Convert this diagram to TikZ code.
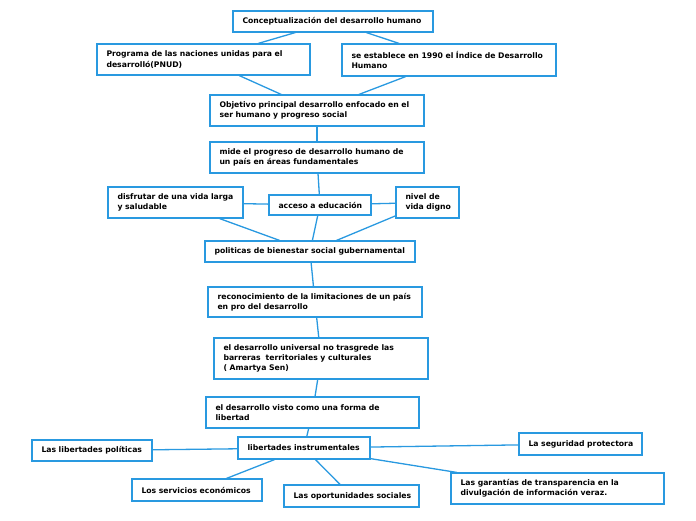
\documentclass[tikz,border=0pt]{standalone}
\usepackage{fontspec}
\setmainfont{DejaVu Sans}
\definecolor{bblue}{RGB}{41,153,224}
\newcommand\boxline[1]{\mbox{#1}}
\tikzset{
  box/.style={draw=bblue, line width=1.1pt, fill=white, inner xsep=9.5pt, inner ysep=0pt,
    align=left, font=\fontsize{7.7pt}{10.2pt}\selectfont\bfseries, anchor=center},
  link/.style={draw=bblue, line width=1.3pt}
}
\begin{document}
\begin{tikzpicture}[x=1pt,y=-1pt]
\useasboundingbox (0,0) rectangle (696,520);
\node[box, text width=181pt, minimum height=21pt] (concept) at (333,21.5) {\boxline{Conceptualización del desarrollo humano}};
\node[box, text width=194pt, minimum height=31pt] (prog) at (203.5,59.5) {\boxline{Programa de las naciones unidas para el}\\\boxline{desarrolló(PNUD)}};
\node[box, text width=195pt, minimum height=32pt] (est) at (449,60) {\boxline{se establece en 1990 el Índice de Desarrollo}\\\boxline{Humano}};
\node[box, text width=195pt, minimum height=31pt] (obj) at (317,110.5) {\boxline{Objetivo principal desarrollo enfocado en el}\\\boxline{ser humano y progreso social}};
\node[box, text width=195pt, minimum height=31pt] (mide) at (317,157.5) {\boxline{mide el progreso de desarrollo humano de}\\\boxline{un país en áreas fundamentales}};
\node[box, text width=116pt, minimum height=31pt] (disf) at (175.5,202.5) {\boxline{disfrutar de una vida larga}\\\boxline{y saludable}};
\node[box, text width=83pt, minimum height=20pt] (acc) at (320,205) {\boxline{acceso a educación}};
\node[box, text width=44pt, minimum height=31pt] (niv) at (427.5,202.5) {\boxline{nivel de}\\\boxline{vida digno}};
\node[box, text width=191pt, minimum height=21pt] (pol) at (310,251.5) {\boxline{politicas de bienestar social gubernamental}};
\node[box, text width=195pt, minimum height=30pt] (rec) at (315,302) {\boxline{reconocimiento de la limitaciones de un país}\\\boxline{en pro del desarrollo}};
\node[box, text width=195pt, minimum height=41pt] (univ) at (321,358.5) {\boxline{el desarrollo universal no trasgrede las}\\\boxline{barreras\ \ territoriales y culturales}\\\boxline{( Amartya Sen)}};
\node[box, text width=194pt, minimum height=31pt] (vis) at (312.5,412.5) {\boxline{el desarrollo visto como una forma de}\\\boxline{libertad}};
\node[box, text width=113pt, minimum height=22pt] (lib) at (304,448) {\boxline{libertades instrumentales}};
\node[box, text width=101pt, minimum height=21pt] (lpol) at (92,450.5) {\boxline{Las libertades políticas}};
\node[box, text width=104pt, minimum height=22pt] (seg) at (580.5,444) {\boxline{La seguridad protectora}};
\node[box, text width=111pt, minimum height=22pt] (serv) at (197,490) {\boxline{Los servicios económicos}};
\node[box, text width=116pt, minimum height=22pt] (opo) at (351.5,496) {\boxline{Las oportunidades sociales}};
\node[box, text width=194pt, minimum height=31pt] (gar) at (557.5,488.5) {\boxline{Las garantías de transparencia en la}\\\boxline{divulgación de información veraz.}};
\draw[link] (concept) -- (prog);
\draw[link] (concept) -- (est);
\draw[link] (prog) -- (obj);
\draw[link] (est) -- (obj);
\draw[link] (obj) -- (mide);
\draw[link] (mide) -- (acc);
\draw[link] (disf) -- (acc);
\draw[link] (acc) -- (niv);
\draw[link] (disf) -- (pol);
\draw[link] (acc) -- (pol);
\draw[link] (niv) -- (pol);
\draw[link] (pol) -- (rec);
\draw[link] (rec) -- (univ);
\draw[link] (univ) -- (vis);
\draw[link] (vis) -- (lib);
\draw[link] (lib) -- (lpol);
\draw[link] (lib) -- (seg);
\draw[link] (lib) -- (serv);
\draw[link] (lib) -- (opo);
\draw[link] (lib) -- (gar);
\end{tikzpicture}
\end{document}
